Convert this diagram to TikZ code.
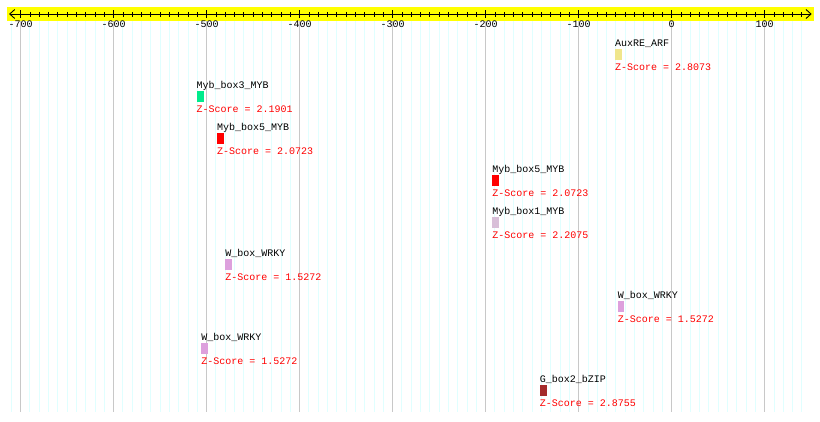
\documentclass[tikz,border=0pt]{standalone}
\usepackage{fontspec}
\setmonofont{Liberation Mono}
\usetikzlibrary{arrows.meta}
\definecolor{band}{RGB}{255,255,0}
\definecolor{gridc}{RGB}{224,255,255}
\definecolor{majc}{RGB}{200,200,200}
\definecolor{arf}{RGB}{240,230,140}
\definecolor{mybgreen}{RGB}{0,235,140}
\definecolor{mybred}{RGB}{255,0,0}
\definecolor{mybpale}{RGB}{216,191,216}
\definecolor{wrky}{RGB}{221,160,221}
\definecolor{bzip}{RGB}{165,42,42}
\tikzset{
  motif/.style={fill=#1,draw=none,inner sep=0pt,anchor=north west,minimum height=11pt},
  motif/.default=mybred,
  mlabel/.style={font=\ttfamily\fontsize{10}{10}\selectfont,inner sep=0pt,anchor=base west},
  zlabel/.style={mlabel,text=red},
  ticklabel/.style={font=\ttfamily\fontsize{10}{10}\selectfont,inner sep=0pt,anchor=base},
}
\begin{document}
\begin{tikzpicture}[x=0.93pt,y=-1pt]
  \useasboundingbox (-722.26,0) rectangle (159.46,421);
  % grid
  \foreach \v in {-710,-700,...,140} \draw[gridc,line width=1pt] (\v,21) -- (\v,412);
  \foreach \v in {-700,-600,...,100} \draw[majc,line width=1pt] (\v,21) -- (\v,412);
  % scale bar
  \fill[band] (-714.7,7) rectangle (153,21);
  \coordinate (axl) at (-712.5,14);
  \coordinate (axr) at (150.5,14);
  \draw[line width=0.9pt,{Straight Barb[length=5pt,width=9pt]}-{Straight Barb[length=5pt,width=9pt]}] (axl) -- (axr);
  \foreach \v in {-700,-690,...,140} \draw[line width=0.9pt] (\v,12) -- (\v,17);
  \foreach \v [count=\i] in {-700,-600,...,100} {
    \draw[line width=0.9pt] (\v,10) -- (\v,18);
    \node[ticklabel] (tk\i) at (\v,27) {\v};
  }
  % motifs
  \foreach \nm/\st/\len/\col/\zv [count=\r from 0] in {
      AuxRE\_ARF/-61/7/arf/2.8073,
      Myb\_box3\_MYB/-511/8/mybgreen/2.1901,
      Myb\_box5\_MYB/-489/7/mybred/2.0723,
      Myb\_box5\_MYB/-193/7/mybred/2.0723,
      Myb\_box1\_MYB/-193/7/mybpale/2.2075,
      W\_box\_WRKY/-480/7/wrky/1.5272,
      W\_box\_WRKY/-58/7/wrky/1.5272,
      W\_box\_WRKY/-506/7/wrky/1.5272,
      G\_box2\_bZIP/-142/8/bzip/2.8755} {
    \pgfmathsetmacro{\top}{49+42*\r}
    \node[motif=\col,minimum width=\len*0.93pt] (box\r) at (\st,\top) {};
    \node[mlabel] (lbl\r) at (\st,\top-3) {\nm};
    \node[zlabel] (zs\r) at (\st,\top+21) {Z-Score = \zv};
  }
\end{tikzpicture}
\end{document}
